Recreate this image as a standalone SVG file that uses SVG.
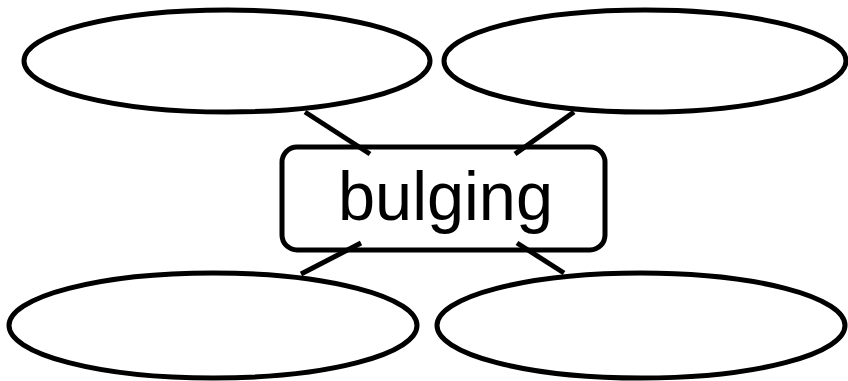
<svg xmlns="http://www.w3.org/2000/svg" width="848" height="381" viewBox="0 0 848 381">
  <style>
    .node { fill: #ffffff; stroke: #000000; stroke-width: 5; }
    .conn { stroke: #000000; stroke-width: 5; fill: none; stroke-linecap: butt; }
    .label { font-family: "Liberation Sans", Arial, sans-serif; font-size: 68px; fill: #000000; }
  </style>
  <rect width="848" height="381" fill="#ffffff"/>
  <g id="node-top-left">
    <ellipse class="node" cx="227" cy="61" rx="203" ry="51"/>
  </g>
  <g id="node-top-right">
    <ellipse class="node" cx="645" cy="61" rx="201" ry="51"/>
  </g>
  <g id="node-bottom-left">
    <ellipse class="node" cx="213" cy="325.5" rx="204" ry="52.5"/>
  </g>
  <g id="node-bottom-right">
    <ellipse class="node" cx="641" cy="325.5" rx="204" ry="52.5"/>
  </g>
  <g id="node-center">
    <rect class="node" x="282" y="147" width="323" height="103" rx="15" ry="15"/>
    <text class="label" x="338" y="220" textLength="215" lengthAdjust="spacingAndGlyphs">bulging</text>
  </g>
  <g id="connectors">
    <line class="conn" x1="305" y1="112" x2="370" y2="154"/>
    <line class="conn" x1="574" y1="112" x2="515" y2="154"/>
    <line class="conn" x1="301" y1="274" x2="361" y2="243"/>
    <line class="conn" x1="564" y1="273" x2="517" y2="243"/>
  </g>
</svg>
